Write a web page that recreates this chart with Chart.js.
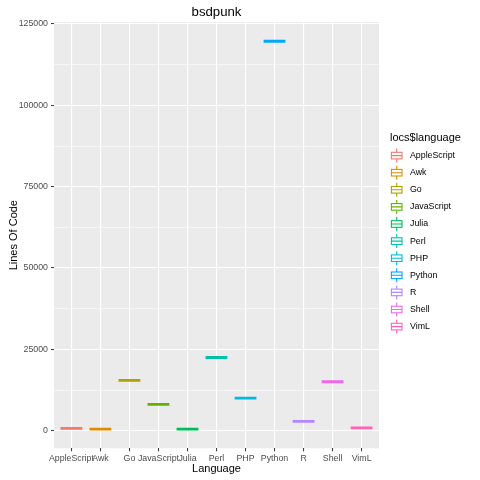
<!DOCTYPE html>
<html>
<head>
<meta charset="utf-8">
<script src="https://cdn.jsdelivr.net/npm/chart.js@4.4.1/dist/chart.umd.min.js"></script>
<style>
    html, body { margin: 0; padding: 0; background: #fff; }
    #wrap { width: 480px; height: 480px; }
</style>
</head>
<body>
<div id="wrap"><canvas id="locChart" width="480" height="480"></canvas></div>
<script>
// Data
const languages = ['AppleScript', 'Awk', 'Go', 'JavaScript', 'Julia', 'Perl', 'PHP', 'Python', 'R', 'Shell', 'VimL'];
const linesOfCode = [700, 500, 15500, 8100, 500, 22500, 10000, 119700, 2900, 15050, 850];
const colors = ['#F8766D', '#DB8E00', '#AEA200', '#64B200', '#00BD5C', '#00C1A7', '#00BADE', '#00A6FF', '#B385FF', '#EF67EB', '#FF63B6'];
const yTicks = [0, 12500, 25000, 37500, 50000, 62500, 75000, 87500, 100000, 112500, 125000];

const FONT = '"Liberation Sans", Arial, sans-serif';
const isMajor = v => v % 25000 === 0;

// grey panel behind the grid
const panelBg = {
    id: 'panelBg',
    beforeDraw(chart) {
        const { ctx, chartArea: a } = chart;
        ctx.save();
        ctx.fillStyle = '#fff';
        ctx.fillRect(0, 0, chart.width, chart.height);
        ctx.fillStyle = '#EBEBEB';
        ctx.fillRect(a.left, a.top, a.right - a.left, a.bottom - a.top);
        ctx.restore();
    }
};

// ggplot-style legend with boxplot keys
const boxLegend = {
    id: 'boxLegend',
    afterDraw(chart) {
        const ctx = chart.ctx;
        ctx.save();
        ctx.textBaseline = 'middle';
        ctx.fillStyle = '#000';
        ctx.font = '11px ' + FONT;
        ctx.fillText('locs$language', 390, 138);
        ctx.font = '8.8px ' + FONT;
        languages.forEach((name, i) => {
            const cy = 155.6 + i * 17.1;
            const cx = 396.7;
            ctx.strokeStyle = colors[i];
            ctx.lineWidth = 1.1;
            ctx.fillStyle = '#fff';
            ctx.fillRect(cx - 5.3, cy - 3.3, 10.6, 6.6);
            ctx.strokeRect(cx - 5.3, cy - 3.3, 10.6, 6.6);
            ctx.beginPath();
            ctx.moveTo(cx - 5.3, cy);
            ctx.lineTo(cx + 5.3, cy);
            ctx.moveTo(cx, cy - 3.3);
            ctx.lineTo(cx, cy - 7);
            ctx.moveTo(cx, cy + 3.3);
            ctx.lineTo(cx, cy + 7);
            ctx.stroke();
            ctx.fillStyle = '#000';
            ctx.fillText(name, 410, cy);
        });
        ctx.restore();
    }
};

new Chart(document.getElementById('locChart'), {
    type: 'scatter',
    data: {
        datasets: [{
            data: languages.map((l, i) => ({ x: i, y: linesOfCode[i] })),
            pointStyle: 'line',
            pointRadius: 10.9,
            pointHoverRadius: 10.9,
            pointBorderWidth: 2.8,
            pointHoverBorderWidth: 2.8,
            pointBorderColor: colors,
            pointBackgroundColor: colors
        }]
    },
    options: {
        responsive: false,
        animation: false,
        events: [],
        devicePixelRatio: 1,
        layout: { padding: { left: 0, right: 101, top: 0, bottom: 0 } },
        plugins: {
            legend: { display: false },
            tooltip: { enabled: false },
            title: {
                display: true,
                text: 'bsdpunk',
                fullSize: false,
                color: '#000',
                font: { family: FONT, size: 13.2, weight: 'normal' },
                padding: { top: 4, bottom: 2.2 }
            }
        },
        scales: {
            x: {
                type: 'linear',
                min: -0.6,
                max: 10.6,
                afterBuildTicks: s => { s.ticks = languages.map((l, i) => ({ value: i })); },
                afterFit: s => { s.height = 31.7; },
                ticks: {
                    callback: v => languages[v],
                    autoSkip: false,
                    maxRotation: 0,
                    color: '#4D4D4D',
                    font: { family: FONT, size: 8.8 },
                    padding: 1.5
                },
                grid: { color: '#fff', lineWidth: 1.1, tickLength: 3, tickColor: '#333', tickWidth: 1 },
                border: { display: false },
                title: {
                    display: true,
                    text: 'Language',
                    color: '#000',
                    font: { family: FONT, size: 11 },
                    padding: { top: 0, bottom: 4 }
                }
            },
            y: {
                min: -5400,
                max: 125600,
                afterBuildTicks: s => { s.ticks = yTicks.map(v => ({ value: v })); },
                afterFit: s => { s.width = 54; },
                ticks: {
                    callback: v => isMajor(v) ? String(v) : '',
                    autoSkip: false,
                    color: '#4D4D4D',
                    font: { family: FONT, size: 8.8 },
                    padding: 3
                },
                grid: {
                    color: '#fff',
                    lineWidth: c => isMajor(c.tick.value) ? 1.1 : 0.55,
                    tickLength: 3,
                    tickColor: c => isMajor(c.tick.value) ? '#333' : 'rgba(0,0,0,0)',
                    tickWidth: 1
                },
                border: { display: false },
                title: {
                    display: true,
                    text: 'Lines Of Code',
                    color: '#000',
                    font: { family: FONT, size: 11 },
                    padding: { top: 7, bottom: 0 }
                }
            }
        }
    },
    plugins: [panelBg, boxLegend]
});
</script>
</body>
</html>
